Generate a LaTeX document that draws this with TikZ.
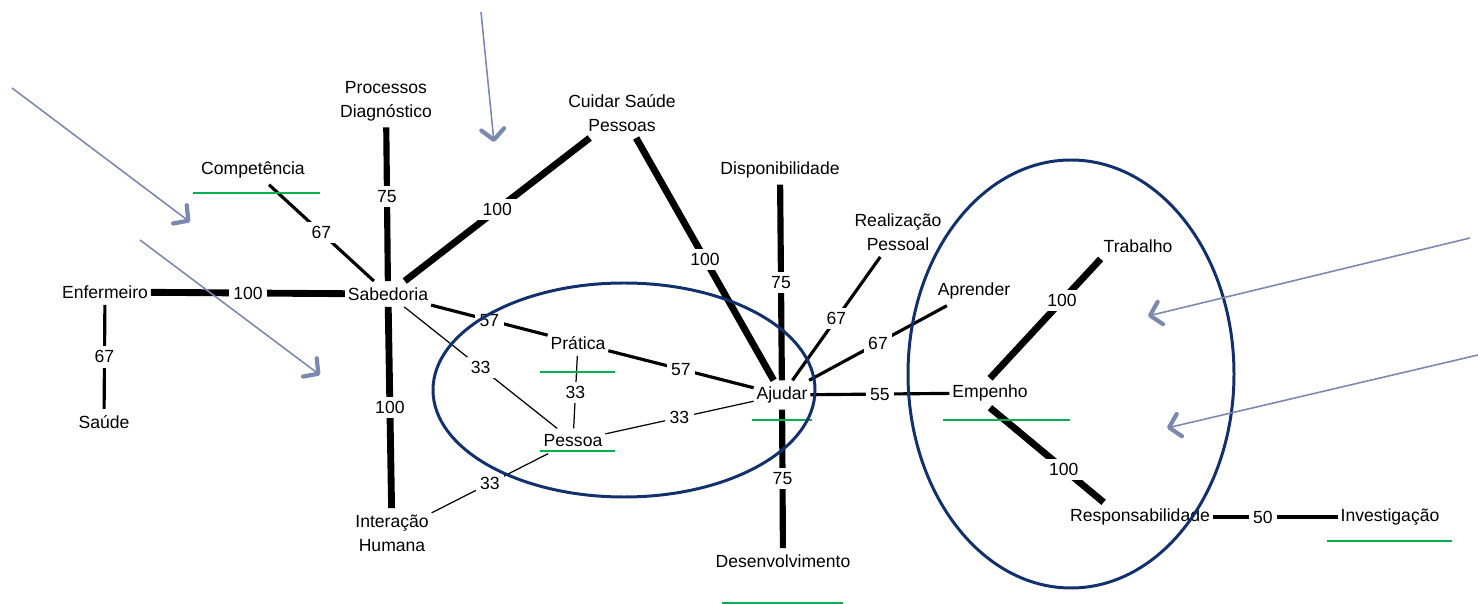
\documentclass[tikz,border=0pt]{standalone}
\usepackage{fontspec}
\setmainfont{Liberation Sans}
\usetikzlibrary{arrows.meta, calc}
\definecolor{ringblue}{RGB}{18,48,108}
\definecolor{arrowgrey}{RGB}{124,136,174}
\definecolor{markgreen}{RGB}{0,176,80}
\tikzset{
    concept/.style={inner xsep=1.5pt, inner ysep=3.5pt, align=center,
        font=\fontsize{10}{13.6}\selectfont}, % a word of the map
    weight/.style={fill=white, inner sep=2.5pt, font=\fontsize{10}{12}\selectfont}, % number on a link
    w100/.style={line width=3.9pt},
    w75/.style={line width=3.5pt},
    w60/.style={line width=1.8pt},
    w33/.style={line width=0.7pt},
    ring/.style={draw=ringblue, line width=1.7pt}, % circled groups
    pointer/.style={draw=arrowgrey, line width=0.9pt,
        -{Straight Barb[length=6pt, width=13pt, line width=2.4pt, round]}},
    greenline/.style={draw=markgreen, line width=1.1pt},
}
\begin{document}
\begin{tikzpicture}[x=0.02cm, y=-0.02cm]
        \useasboundingbox (0,0) rectangle (1478,604);
        % words
        \node[concept] (enfermeiro) at (105,292) {Enfermeiro};
        \node[concept] (sabedoria) at (388,294) {Sabedoria};
        \node[concept] (saude) at (104,422) {Saúde};
        \node[concept] (competencia) at (253,170) {Competência};
        \node[concept] (processos) at (386,101) {Processos\\Diagnóstico};
        \node[concept] (cuidar) at (622,113) {Cuidar Saúde\\Pessoas};
        \node[concept] (disponib) at (780,170) {Disponibilidade};
        \node[concept] (realizacao) at (898,232) {Realização\\Pessoal};
        \node[concept] (aprender) at (974,291) {Aprender};
        \node[concept] (trabalho) at (1138,246) {Trabalho};
        \node[concept] (pratica) at (578,343) {Prática};
        \node[concept] (ajudar) at (782,395) {Ajudar};
        \node[concept] (empenho) at (990,393) {Empenho};
        \node[concept] (pessoa) at (573,441) {Pessoa};
        \node[concept] (interacao) at (392,533) {Interação\\Humana};
        \node[concept] (desenvolv) at (783,561) {Desenvolvimento};
        \node[concept] (respons) at (1140,517) {Responsabilidade};
        \node[concept] (investig) at (1390,517) {Investigação};
        % links
        \draw[w100] (enfermeiro) -- node[weight]{100} (sabedoria);
        \draw[w60] (enfermeiro) -- node[weight]{67} (saude);
        \draw[w60] (competencia) -- node[weight]{67} (sabedoria);
        \draw[w75] (processos) -- node[weight, pos=0.45]{75} (sabedoria);
        \draw[w100] (sabedoria) -- node[weight]{100} (cuidar);
        \draw[w60] (sabedoria) -- node[weight]{57} (pratica);
        \draw[w60] (pratica) -- node[weight]{57} (ajudar);
        \draw[w33] (sabedoria) -- node[weight]{33} (pessoa);
        \draw[w100] (sabedoria) -- node[weight]{100} (interacao);
        \draw[w33] (pratica) -- node[weight]{33} (pessoa);
        \draw[w33] (pessoa) -- node[weight]{33} (ajudar);
        \draw[w33] (pessoa) -- node[weight]{33} (interacao);
        \draw[w100] (cuidar) -- node[weight]{100} (ajudar);
        \draw[w75] (disponib) -- node[weight]{75} (ajudar);
        \draw[w60] (realizacao) -- node[weight]{67} (ajudar);
        \draw[w60] (aprender) -- node[weight]{67} (ajudar);
        \draw[w60] (ajudar) -- node[weight]{55} (empenho);
        \draw[w75] (ajudar) -- node[weight]{75} (desenvolv);
        \draw[w100] (empenho.north) -- node[weight, pos=0.65]{100} (trabalho.south west);
        \draw[w100] (empenho.south) -- node[weight, pos=0.65]{100} ($(respons.north)!0.5!(respons.north west)$);
        \draw[w60] (respons) -- node[weight, pos=0.4]{50} (investig);
        % green underlines
        \draw[greenline] (193,193) -- (320,193);
        \draw[greenline] (540,372) -- (615,372);
        \draw[greenline] (540,451) -- (615,451);
        \draw[greenline] (752,420) -- (812,420);
        \draw[greenline] (943,420) -- (1070,420);
        \draw[greenline] (722,603) -- (843,603);
        \draw[greenline] (1327,541) -- (1452,541);
        % rings
        \draw[ring] (624,390) ellipse [x radius=191, y radius=107];
        \draw[ring] (1071,374) ellipse [x radius=163, y radius=214];
        % pointers
        \draw[pointer] (12,88) -- (190,222);
        \draw[pointer] (140,240) -- (320,375);
        \draw[pointer] (481,12) -- (494,142);
        \draw[pointer] (1470,238) -- (1148,316);
        \draw[pointer] (1478,355) -- (1167,428);
    \end{tikzpicture}
\end{document}
